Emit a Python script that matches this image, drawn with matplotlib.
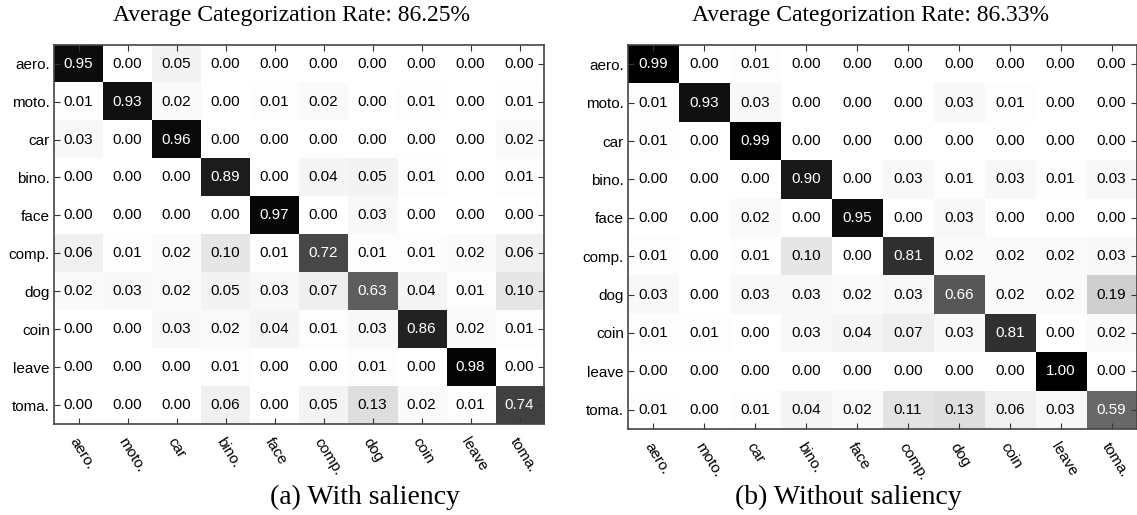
import matplotlib
matplotlib.use("Agg")
import matplotlib.pyplot as plt
import numpy as np

labels = ["aero.", "moto.", "car", "bino.", "face", "comp.", "dog", "coin", "leave", "toma."]

# (a) with saliency
with_saliency = [
    [0.95, 0.00, 0.05, 0.00, 0.00, 0.00, 0.00, 0.00, 0.00, 0.00],
    [0.01, 0.93, 0.02, 0.00, 0.01, 0.02, 0.00, 0.01, 0.00, 0.01],
    [0.03, 0.00, 0.96, 0.00, 0.00, 0.00, 0.00, 0.00, 0.00, 0.02],
    [0.00, 0.00, 0.00, 0.89, 0.00, 0.04, 0.05, 0.01, 0.00, 0.01],
    [0.00, 0.00, 0.00, 0.00, 0.97, 0.00, 0.03, 0.00, 0.00, 0.00],
    [0.06, 0.01, 0.02, 0.10, 0.01, 0.72, 0.01, 0.01, 0.02, 0.06],
    [0.02, 0.03, 0.02, 0.05, 0.03, 0.07, 0.63, 0.04, 0.01, 0.10],
    [0.00, 0.00, 0.03, 0.02, 0.04, 0.01, 0.03, 0.86, 0.02, 0.01],
    [0.00, 0.00, 0.00, 0.01, 0.00, 0.00, 0.01, 0.00, 0.98, 0.00],
    [0.00, 0.00, 0.00, 0.06, 0.00, 0.05, 0.13, 0.02, 0.01, 0.74],
]

# (b) without saliency
without_saliency = [
    [0.99, 0.00, 0.01, 0.00, 0.00, 0.00, 0.00, 0.00, 0.00, 0.00],
    [0.01, 0.93, 0.03, 0.00, 0.00, 0.00, 0.03, 0.01, 0.00, 0.00],
    [0.01, 0.00, 0.99, 0.00, 0.00, 0.00, 0.00, 0.00, 0.00, 0.00],
    [0.00, 0.00, 0.00, 0.90, 0.00, 0.03, 0.01, 0.03, 0.01, 0.03],
    [0.00, 0.00, 0.02, 0.00, 0.95, 0.00, 0.03, 0.00, 0.00, 0.00],
    [0.01, 0.00, 0.01, 0.10, 0.00, 0.81, 0.02, 0.02, 0.02, 0.03],
    [0.03, 0.00, 0.03, 0.03, 0.02, 0.03, 0.66, 0.02, 0.02, 0.19],
    [0.01, 0.01, 0.00, 0.03, 0.04, 0.07, 0.03, 0.81, 0.00, 0.02],
    [0.00, 0.00, 0.00, 0.00, 0.00, 0.00, 0.00, 0.00, 1.00, 0.00],
    [0.01, 0.00, 0.01, 0.04, 0.02, 0.11, 0.13, 0.06, 0.03, 0.59],
]

titles = ["Average Categorization Rate: 86.25%", "Average Categorization Rate: 86.33%"]
captions = ["(a) With saliency", "(b) Without saliency"]

sans = ["Liberation Sans", "DejaVu Sans"]
serif = ["Liberation Serif", "DejaVu Serif"]

fig = plt.figure(figsize=(11.37, 5.15), dpi=100)
rects = [[0.0475, 0.1767, 0.431, 0.7365], [0.5523, 0.167, 0.4477, 0.7456]]
title_x = [0.256, 0.766]
caption_x = [0.321, 0.746]


def draw_matrix(ax, data):
    m = np.array(data)
    ax.imshow(m, cmap="gray_r", vmin=0, vmax=1, aspect="auto", interpolation="nearest")
    for i in range(m.shape[0]):
        for j in range(m.shape[1]):
            v = m[i, j]
            ax.text(j, i, f"{v:.2f}", ha="center", va="center", fontsize=11,
                    family=sans, color="white" if v >= 0.5 else "black")
    ax.set_xticks(range(len(labels)))
    ax.set_yticks(range(len(labels)))
    ax.set_xticklabels(labels, rotation=-58, ha="left", rotation_mode="anchor",
                       family=sans, fontsize=11)
    ax.set_yticklabels(labels, family=sans, fontsize=11)
    ax.tick_params(direction="in", top=True, right=True, length=4, width=0.8,
                   color="#333333", pad=3)
    ax.tick_params(axis="x", pad=8)
    for s in ax.spines.values():
        s.set_color("#444444")
        s.set_linewidth(1.2)


for k, data in enumerate([with_saliency, without_saliency]):
    ax = fig.add_axes(rects[k])
    draw_matrix(ax, data)
    fig.text(title_x[k], 1 - 16 / 515, titles[k], ha="center", va="center",
             family=serif, fontsize=17)
    fig.text(caption_x[k], 1 - 497 / 515, captions[k], ha="center", va="center",
             family=serif, fontsize=20)

fig.savefig("out.png", dpi=100)
